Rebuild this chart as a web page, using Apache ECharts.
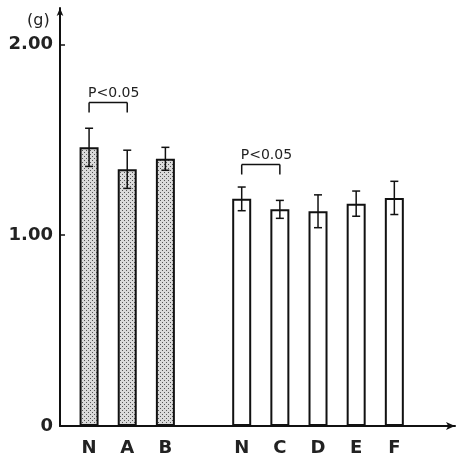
<!DOCTYPE html>
<html>
<head>
<meta charset="utf-8">
<script src="https://cdn.jsdelivr.net/npm/echarts@6/dist/echarts.min.js"></script>
<style>
  html, body { margin: 0; padding: 0; background: #fff; }
  #chart { width: 458px; height: 458px; }
</style>
</head>
<body>
<div id="chart"></div>
<script>
// slot positions along x (gap at 4 separates the two groups)
const xPos = [1, 2, 3, 5, 6, 7, 8, 9];
const labels = ['N', 'A', 'B', 'N', 'C', 'D', 'E', 'F'];
// weight (g) means and SD
const means = [1.46, 1.345, 1.40, 1.19, 1.135, 1.125, 1.165, 1.195];
const errs = [0.10, 0.10, 0.06, 0.062, 0.047, 0.086, 0.066, 0.087];
// which bars belong to the stippled group
const groupA = [0, 1, 2];
const groupB = [3, 4, 5, 6, 7];
// significance brackets: [from, to, height, text]
const brackets = [
    [1, 2, 1.695, 'P<0.05'],
    [5, 6, 1.37, 'P<0.05']
];
const yTicks = [0, 1, 2];

// stipple fill for the first group
const pat = document.createElement('canvas');
pat.width = 4; pat.height = 4;
const pc = pat.getContext('2d');
pc.fillStyle = '#dadada';
pc.fillRect(0, 0, 4, 4);
pc.fillStyle = '#555';
pc.fillRect(0, 0, 1, 1);
pc.fillRect(2, 2, 1, 1);

const chart = echarts.init(document.getElementById('chart'));

const barData = (idx) => idx.map(i => [xPos[i], means[i]]);

const option = {
    animation: false,
    title: {
        text: '(g)',
        left: 27,
        top: 13,
        padding: 0,
        textStyle: { fontSize: 16, fontWeight: 'normal', color: '#222', fontFamily: 'DejaVu Sans' }
    },
    grid: { left: 60, right: 3, top: 8, bottom: 32 },
    xAxis: {
        type: 'value',
        min: 0.238,
        max: 10.59,
        splitLine: { show: false },
        axisLine: {
            lineStyle: { color: '#111', width: 2 },
            symbol: ['none', 'arrow'],
            symbolSize: [6, 9]
        },
        axisTick: { show: false },
        axisLabel: {
            customValues: xPos,
            formatter: v => labels[xPos.indexOf(v)],
            fontSize: 18,
            fontWeight: 'bold',
            color: '#222',
            fontFamily: 'DejaVu Sans',
            margin: 13
        }
    },
    yAxis: {
        type: 'value',
        min: 0,
        max: 2.19,
        interval: 1,
        splitLine: { show: false },
        axisLine: {
            show: true,
            lineStyle: { color: '#111', width: 2 },
            symbol: ['none', 'arrow'],
            symbolSize: [5, 8]
        },
        axisTick: {
            show: true,
            inside: true,
            length: 5,
            customValues: yTicks,
            lineStyle: { color: '#111', width: 1.5 }
        },
        axisLabel: {
            customValues: yTicks,
            formatter: v => v === 0 ? '0' : v.toFixed(2),
            fontSize: 18,
            fontWeight: 'bold',
            color: '#222',
            fontFamily: 'DejaVu Sans',
            margin: 7
        }
    },
    series: [
        {
            type: 'bar',
            barWidth: 19,
            barGap: '-100%',
            data: barData(groupA),
            itemStyle: {
                color: { image: pat, repeat: 'repeat' },
                borderColor: '#111',
                borderWidth: 2
            }
        },
        {
            type: 'bar',
            barWidth: 19,
            barGap: '-100%',
            data: barData(groupB),
            itemStyle: {
                color: '#fff',
                borderColor: '#111',
                borderWidth: 2
            }
        },
        {
            // error bars
            type: 'custom',
            data: xPos.map((x, i) => [x, means[i] - errs[i], means[i] + errs[i]]),
            renderItem: function (params, api) {
                const lo = api.coord([api.value(0), api.value(1)]);
                const hi = api.coord([api.value(0), api.value(2)]);
                const h = 4;
                const s = { stroke: '#111', lineWidth: 1.5 };
                return {
                    type: 'group',
                    children: [
                        { type: 'line', shape: { x1: lo[0], y1: lo[1], x2: hi[0], y2: hi[1] }, style: s },
                        { type: 'line', shape: { x1: hi[0] - h, y1: hi[1], x2: hi[0] + h, y2: hi[1] }, style: s },
                        { type: 'line', shape: { x1: lo[0] - h, y1: lo[1], x2: lo[0] + h, y2: lo[1] }, style: s }
                    ]
                };
            },
            z: 5
        },
        {
            // significance brackets
            type: 'custom',
            data: brackets,
            renderItem: function (params, api) {
                const a = api.coord([api.value(0), api.value(2)]);
                const b = api.coord([api.value(1), api.value(2)]);
                const leg = 10;
                const s = { stroke: '#111', lineWidth: 1.5 };
                return {
                    type: 'group',
                    children: [
                        { type: 'line', shape: { x1: a[0], y1: a[1], x2: b[0], y2: b[1] }, style: s },
                        { type: 'line', shape: { x1: a[0], y1: a[1], x2: a[0], y2: a[1] + leg }, style: s },
                        { type: 'line', shape: { x1: b[0], y1: b[1], x2: b[0], y2: b[1] + leg }, style: s },
                        {
                            type: 'text',
                            style: {
                                x: a[0] - 1, y: a[1] - 2,
                                text: brackets[params.dataIndex][3],
                                fill: '#222',
                                font: '14px "DejaVu Sans"',
                                textAlign: 'left',
                                textVerticalAlign: 'bottom'
                            }
                        }
                    ]
                };
            },
            z: 5
        }
    ]
};

chart.setOption(option);
</script>
</body>
</html>
